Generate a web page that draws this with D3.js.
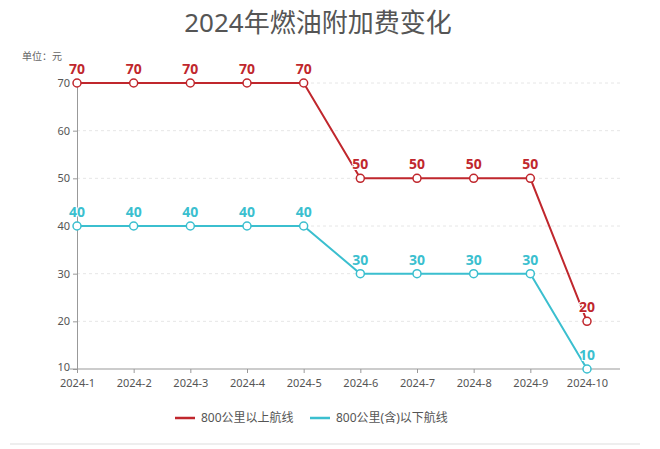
<!DOCTYPE html><html><head><meta charset="utf-8"><script src="https://d3js.org/d3.v7.min.js"></script>
<style>body{margin:0;background:#fff}text{font-family:"Noto Sans","Noto Sans CJK SC",sans-serif}</style></head><body><svg id="c" width="660" height="449"></svg><script>
const months=["2024-1","2024-2","2024-3","2024-4","2024-5","2024-6","2024-7","2024-8","2024-9","2024-10"];
const longHaul=[70,70,70,70,70,50,50,50,50,20];
const shortHaul=[40,40,40,40,40,30,30,30,30,10];
const yTicks=[10,20,30,40,50,60,70];
const seriesNames=["800公里以上航线","800公里(含)以下航线"];
const colors=["#c0272d","#3bbfcf"];
const svg=d3.select("#c");
const x=d3.scalePoint().domain(months).range([77,587]);
const y=d3.scaleLinear().domain([10,70]).range([369,83]);
svg.append("text").attr("x",318).attr("y",32).attr("text-anchor","middle").attr("font-size",26).attr("fill","#555").text("2024年燃油附加费变化");
svg.append("text").attr("x",22).attr("y",60).attr("font-size",10).attr("fill","#666").text("单位：元");
yTicks.slice(1).forEach(t=>svg.append("line").attr("x1",77).attr("x2",620).attr("y1",y(t)).attr("y2",y(t)).attr("stroke","#e6e6e6").attr("stroke-dasharray","3,3"));
const ya=svg.append("g").attr("transform","translate(77,0)").call(d3.axisLeft(y).tickValues(yTicks).tickSize(4));
ya.select(".domain").attr("stroke","#999");ya.selectAll("line").attr("stroke","#999");ya.selectAll("text").attr("font-size",11).attr("fill","#555");
ya.selectAll(".tick text").filter(d=>d===10).attr("dy","0.1em");
const xa=svg.append("g").attr("transform","translate(0,369)").call(d3.axisBottom(x).tickSize(4));
xa.select(".domain").attr("stroke","#999").attr("d","M70,0H620");xa.selectAll("line").attr("stroke","#999");xa.selectAll("text").attr("font-size",11).attr("fill","#555").attr("dy","1em");
[longHaul,shortHaul].forEach((s,i)=>{
 const g=svg.append("g");
 g.append("path").attr("d",d3.line().x((d,j)=>x(months[j])).y(d=>y(d))(s)).attr("fill","none").attr("stroke",colors[i]).attr("stroke-width",2);
 g.selectAll("circle").data(s).join("circle").attr("cx",(d,j)=>x(months[j])).attr("cy",d=>y(d)).attr("r",4).attr("fill","#fff").attr("stroke",colors[i]).attr("stroke-width",1.5);
 g.selectAll("text").data(s).join("text").attr("x",(d,j)=>x(months[j])).attr("y",d=>y(d)-9).attr("text-anchor","middle").attr("font-size",14).attr("font-weight","bold").attr("fill",colors[i]).attr("stroke","#fff").attr("stroke-width",2).attr("paint-order","stroke").text(d=>d);
});
const lx=[175,310];
seriesNames.forEach((n,i)=>{
 svg.append("line").attr("x1",lx[i]).attr("x2",lx[i]+20).attr("y1",418).attr("y2",418).attr("stroke",colors[i]).attr("stroke-width",2.5);
 svg.append("text").attr("x",lx[i]+26).attr("y",422).attr("font-size",12).attr("fill","#555").text(n);
});
svg.append("line").attr("x1",10).attr("x2",640).attr("y1",444).attr("y2",444).attr("stroke","#ddd");
</script></body></html>
